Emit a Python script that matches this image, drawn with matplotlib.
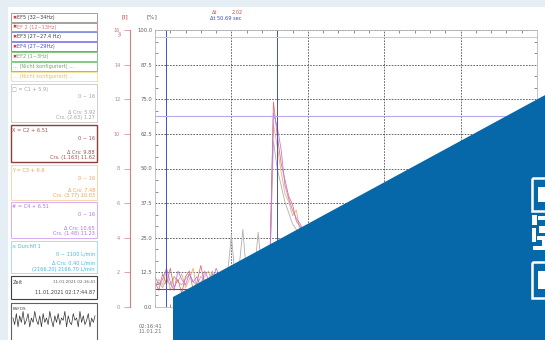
import matplotlib
matplotlib.use("Agg")
import matplotlib.pyplot as plt
from matplotlib.patches import Rectangle, Polygon
import numpy as np

# ---- data ----
t = list(range(0, 255, 5))  # seconds from 02:16:41
red = [9, 6, 12, 8, 14, 7, 10, 5, 11, 13, 6, 9, 15, 8, 7, 12, 10, 6, 13, 9, 7, 11, 14, 8, 10, 6, 12, 9, 13, 7, 10,
       74, 62, 52, 46, 40, 37, 31, 29, 24, 26, 20, 22, 18, 17, 15, 16, 13, 14, 12, 11]
orange = [7, 10, 8, 13, 6, 11, 9, 12, 7, 10, 14, 6, 9, 11, 13, 8, 12, 9, 7, 14, 10, 8, 12, 6, 11, 13, 8, 10, 7, 12, 9,
          66, 58, 49, 41, 38, 33, 35, 27, 28, 22, 24, 19, 20, 16, 17, 14, 15, 12, 13, 10]
purple = [11, 8, 10, 14, 9, 6, 13, 10, 8, 12, 9, 11, 7, 13, 10, 9, 14, 11, 8, 10, 12, 9, 7, 13, 11, 8, 10, 14, 9, 11, 12,
          70, 65, 57, 44, 39, 35, 32, 30, 27, 25, 23, 21, 19, 18, 16, 15, 14, 13, 12, 11]
grey = [8, 9, 7, 10, 8, 11, 9, 8, 10, 12, 9, 8, 11, 10, 9, 13, 8, 10, 9, 12, 26, 10, 14, 28, 11, 9, 12, 27, 13, 10, 11,
        60, 50, 44, 38, 34, 30, 28, 25, 23, 21, 19, 18, 17, 15, 14, 13, 12, 11, 11, 10]
y_ticks = [0.0, 12.5, 25.0, 37.5, 50.0, 62.5, 75.0, 87.5, 100.0]
i_ticks = [0, 2, 4, 6, 8, 10, 12, 14, 16]
cursor_t = [14, 160]
level_lines = [(97.5, "#a8d8f0"), (69.0, "#b8a8e8"), (6.5, "#6050a0")]
wave = [5, 8, 3, 9, 4, 7, 2, 8, 6, 3, 9, 5, 7, 2, 6, 8, 4, 9, 3, 7, 5, 8, 2, 6, 9, 4, 7, 3, 8, 5,
        6, 2, 9, 4, 7, 8, 3, 6, 5, 9, 2, 7, 4, 8, 6, 3, 9, 5, 7, 4]

W, H = 545, 340
fig = plt.figure(figsize=(W / 100, H / 100), dpi=100)
fig.patch.set_facecolor("white")

def fx(px):
    return px / W

def fy(py):
    return 1 - py / H

# ---- main chart ----
x0, x1, ytop, ybot = 155, 537, 30, 307
ax = fig.add_axes([fx(x0), fy(ybot), fx(x1 - x0), (ybot - ytop) / H])
ax.set_xlim(0, 500)
ax.set_ylim(0, 100)
ax.plot(t, grey, color="#b0b0b0", lw=0.6)
ax.plot(t, orange, color="#f3b26a", lw=0.6)
ax.plot(t, red, color="#e57070", lw=0.6)
ax.plot(t, purple, color="#b57cf0", lw=0.6)
for c in cursor_t:
    ax.axvline(c, color="#4050c0", lw=0.7)
for v, col in level_lines:
    ax.axhline(v, color=col, lw=0.8)
ax.set_yticks(y_ticks)
ax.set_yticklabels([f"{v:.1f}" for v in y_ticks], fontsize=3.8, color="#707070")
ax.set_xticks([100, 200, 300, 400])
ax.set_xticklabels([])
ax.set_yticks(np.arange(0, 100.1, 12.5 / 3), minor=True)
ax.set_xticks(np.arange(0, 500, 20), minor=True)
ax.grid(True, which="major", color="#505050", ls=(0, (2, 1.5)), lw=0.6)
ax.tick_params(which="both", direction="in", length=2.5, width=0.5, colors="#606060",
               top=True, right=True, pad=2)
ax.tick_params(which="major", length=0)
for s in ax.spines.values():
    s.set_color("#b8b8b8")
    s.set_linewidth(0.6)
ax.text(-6, -6, "02:16:41\n11.01.21", fontsize=3.8, color="#707070", ha="center", va="top",
        linespacing=1.1)

# outer current axis
ax2 = fig.add_axes([fx(130), fy(ybot), 0.001, (ybot - ytop) / H])
ax2.set_ylim(0, 16)
ax2.set_yticks(i_ticks)
ax2.set_yticklabels([str(v) for v in i_ticks], fontsize=3.6, color="#c08080")
ax2.set_xticks([])
for k in ["top", "right", "bottom"]:
    ax2.spines[k].set_visible(False)
ax2.spines["left"].set_color("#d08080")
ax2.tick_params(axis="y", color="#d08080", length=4, width=0.5, pad=3)

# ---- overlay: panel, header, triangle ----
ov = fig.add_axes([0, 0, 1, 1], zorder=10)
ov.set_xlim(0, W)
ov.set_ylim(H, 0)
ov.axis("off")
ov.patch.set_alpha(0)

bg = "#e5edf5"
ov.add_patch(Rectangle((0, 0), W, 7, color=bg, lw=0))
ov.add_patch(Rectangle((0, 0), 8, H, color=bg, lw=0))

fs = 3.6
ov.text(125, 17, "[I]", fontsize=4.5, color="#c04040", ha="center", va="center")
ov.text(152, 17, "[%]", fontsize=4.5, color="#606060", ha="center", va="center")
ov.text(121, 33, "Vol", fontsize=3.2, color="#c08080", rotation=90, ha="center", va="center")
ov.text(212, 13, "\u0394t", fontsize=fs, color="#c05050", va="center")
ov.text(232, 13, "2.02", fontsize=fs, color="#c05050", va="center")
ov.text(210, 19, "\u0394t 50.69 sec", fontsize=fs, color="#3050c0", va="center")

L, R = 11, 97

def box(ya, yb, ec, lw=0.7):
    ov.add_patch(Rectangle((L, ya), R - L, yb - ya, fill=False, ec=ec, lw=lw))

rows = [
    (13, 22, "#909090", "EF5 (32~34Hz)", "#404040", True),
    (23, 31, "#e07070", "EF 2 (12~13Hz)", "#e07070", True),
    (32, 41, "#7080d0", "EF3 (27~27.4 Hz)", "#404040", True),
    (42, 51, "#8070e0", "EF4 (27~29Hz)", "#4050d0", True),
    (52, 61, "#70c070", "EF2 (1~3Hz)", "#60b060", True),
    (62, 71, "#70c070", "... (Nicht konfiguriert) ...", "#70a070", False),
    (72, 81, "#f0e090", "... (Nicht konfiguriert) ...", "#e0c060", False),
]
for ya, yb, ec, txt, tc, mark in rows:
    box(ya, yb, ec, 0.6)
    if mark:
        ov.text(L + 1.5, (ya + yb) / 2, "\u2716", fontsize=3.6, color="#d03030", va="center")
        ov.text(L + 6, (ya + yb) / 2, txt, fontsize=fs, color=tc, va="center")
    else:
        ov.text(L + 2, (ya + yb) / 2, txt, fontsize=fs, color=tc, va="center")

channels = [
    (84, 122, "#c8c8c8", 0.6, "#a0a0a0", ["\u25a1 = C1 + 5.9)", "0 ~ 16", "\u0394 Crs: 5.92", "Crs. (2.63) 1.27"]),
    (125, 162, "#8b4040", 1.0, "#a05050", ["X = C2 + 6.51", "0 ~ 16", "\u0394 Crs: 9.88", "Crs. (1.163) 11.62"]),
    (165, 200, "#f5d0a0", 0.6, "#f0a050", ["Y = C3 + 6.6", "0 ~ 16", "\u0394 Crs: 7.48", "Crs. (3.77) 10.03"]),
    (202, 238, "#d0a0f0", 0.6, "#b070e0", ["# = C4 + 6.51", "0 ~ 16", "\u0394 Crs: 10.65", "Crs. (1.48) 11.23"]),
    (241, 273, "#90e0f0", 0.6, "#40b8e0", ["\u2248 Durchfl 1", "0 ~ 1100 L/min", "\u0394 Crs: 0.40 L/min",
                                           "(2166.20) 2166.70 L/min"]),
]
for ya, yb, ec, lw, tc, lines in channels:
    box(ya, yb, ec, lw)
    ov.text(L + 1.5, ya + 5, lines[0], fontsize=fs, color=tc, va="center")
    ov.text(R - 2, ya + 13, lines[1], fontsize=fs, color=tc, va="center", ha="right")
    ov.text(R - 2, yb - 10, lines[2], fontsize=fs, color=tc, va="center", ha="right")
    ov.text(R - 2, yb - 4, lines[3], fontsize=fs, color=tc, va="center", ha="right")

box(276, 299, "#404040", 0.8)
ov.text(L + 2, 282, "Zeit", fontsize=fs, color="#404040", va="center")
ov.text(R - 2, 282, "11.01.2021 02:16:41", fontsize=3.0, color="#606060", va="center", ha="right")
ov.text(R - 2, 293, "11.01.2021 02:17:44.87", fontsize=fs, color="#404040", va="center", ha="right")

box(303, 345, "#606060", 0.8)
ov.text(L + 2, 309, "BSFOS", fontsize=3.0, color="#404040", va="center")
wx = np.linspace(L + 2, R - 2, len(wave))
ov.plot(wx, [318 + 2.2 * (v - 5) for v in wave], color="#303030", lw=0.5)

# blue triangle with QR marks
ov.add_patch(Polygon([(173, 297), (W + 2, 94), (W + 2, H + 2), (173, H + 2)],
                     closed=True, color="#0668a9", lw=0))
wh = "white"
for ya, yb in [(178, 211), (262, 298)]:
    ov.add_patch(Rectangle((532, ya), 20, yb - ya, fill=False, ec=wh, lw=1.8))
    ov.add_patch(Rectangle((538, ya + 9), 10, yb - ya - 18, color=wh, lw=0))
for (bx, by, bw, bh) in [(532, 215, 5, 10), (538, 216, 8, 4), (532, 228, 4, 14),
                         (539, 226, 6, 7), (537, 236, 9, 4), (533, 246, 12, 4), (542, 240, 4, 8)]:
    ov.add_patch(Rectangle((bx, by), bw, bh, color=wh, lw=0))

fig.savefig("out.png", dpi=100)
